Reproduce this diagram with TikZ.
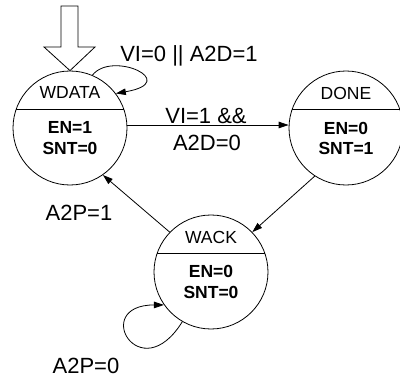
\documentclass[tikz,border=0pt]{standalone}
\usepackage{fontspec}
\setmainfont{Liberation Sans}
\usetikzlibrary{arrows.meta}
\begin{document}
\begin{tikzpicture}[x=1pt,y=-1pt,
  state/.style={circle,draw,line width=0.8pt,minimum size=114pt,inner sep=0pt},
  sname/.style={anchor=base,inner sep=0pt,font=\fontsize{17.5}{20}\selectfont},
  sout/.style={anchor=base,inner sep=0pt,font=\fontsize{17.5}{20}\selectfont\bfseries},
  elabel/.style={anchor=base,inner sep=0pt,font=\fontsize{22}{26}\selectfont},
  trans/.style={draw,line width=0.8pt,-{Triangle[length=10pt,width=6.5pt]}},
  divider/.style={draw,line width=0.8pt},
  bigarrow/.style={draw,line width=0.8pt,fill=white}]
\useasboundingbox (0,0) rectangle (400,380);
% states
\node[state] (wdata) at (70,128) {};
\node[state] (done) at (346,128) {};
\node[state] (wack) at (211,272) {};
% dividers
\path[divider] (70-53.7,109) -- (70+53.7,109);
\path[divider] (346-53.7,109) -- (346+53.7,109);
\path[divider] (211-53.7,253) -- (211+53.7,253);
% state texts
\node[sname] (wdataname) at (70,98.5) {WDATA};
\node[sout] (wdataen) at (70,133.5) {EN=1};
\node[sout] (wdatasnt) at (70,154) {SNT=0};
\node[sname] (donename) at (346,99.5) {DONE};
\node[sout] (doneen) at (346,134) {EN=0};
\node[sout] (donesnt) at (346,154) {SNT=1};
\node[sname] (wackname) at (211,243.5) {WACK};
\node[sout] (wacken) at (211,277.5) {EN=0};
\node[sout] (wacksnt) at (211,298) {SNT=0};
% reset arrow
\path[bigarrow] (61,6) -- (78,6) -- (78,47) -- (95,47) -- (wdata.north) -- (44,47) -- (61,47) -- cycle;
% transitions
\path[trans] (wdata.67) .. controls (112,50) and (182,82) .. (wdata.37);
\path[trans] (wdata.3) -- (done.177);
\path[trans] (done.237) -- (wack.44);
\path[trans] (wack.136) -- (wdata.305);
\path[trans] (wack.240) .. controls (140,390) and (90,305) .. (wack.215);
% edge labels
\node[elabel] (l1) at (189,61) {VI=0 || A2D=1};
\node[elabel] (l2) at (206,123) {VI=1 \&\&};
\node[elabel] (l3) at (207,150) {A2D=0};
\node[elabel] (l4) at (79,220) {A2P=1};
\node[elabel] (l5) at (86,373) {A2P=0};
\end{tikzpicture}
\end{document}
